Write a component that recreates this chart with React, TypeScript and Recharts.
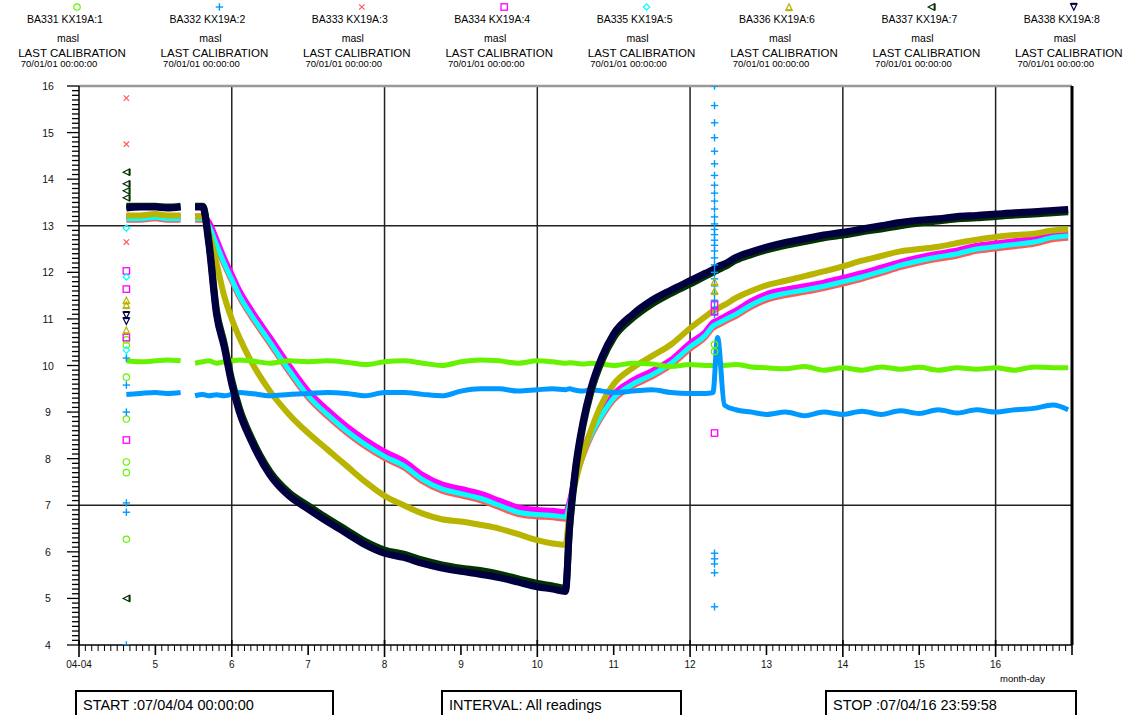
import { ComposedChart, Line, Scatter, XAxis, YAxis, ReferenceLine } from "recharts"

// time axis in days of April 2007
const days = [
    4.62, 4.8, 5.0, 5.15, 5.33, 5.42, 5.52, 5.62, 5.7, 5.8, 5.9, 6.0, 6.1, 6.25, 6.5, 6.75,
    7.0, 7.25, 7.5, 7.75, 8.0, 8.25, 8.5, 8.75, 9.0, 9.25, 9.5, 9.75, 10.0, 10.2, 10.37, 10.42,
    10.5, 10.6, 10.7, 10.85, 11.0, 11.25, 11.5, 11.75, 12.0, 12.2, 12.3, 12.36, 12.45, 12.6, 12.8,
    13.0, 13.25, 13.5, 13.75, 14.0, 14.25, 14.5, 14.75, 15.0, 15.25, 15.5, 15.75, 16.0, 16.25,
    16.5, 16.75, 16.95,
]

const ba331 = [
    10.1, 10.08, 10.1, 10.12, 10.1, null, 10.05, 10.08, 10.1, 10.05, 10.08, 10.1, 10.12, 10.1, 10.05, 10.1,
    10.08, 10.1, 10.07, 10.02, 10.08, 10.1, 10.05, 10.0, 10.08, 10.12, 10.1, 10.05, 10.1, 10.08, 10.05, 10.06,
    10.05, 10.03, 10.05, 10.03, 10.0, 10.05, 10.03, 9.98, 10.02, 10.0, 10.0, 10.05, 10.0, 10.02, 9.97,
    9.95, 9.93, 9.98, 9.9, 9.95, 9.9, 9.97, 9.92, 9.96, 9.9, 9.95, 9.92, 9.95, 9.9,
    9.97, 9.95, 9.95,
]
const ba332 = [
    9.38, 9.4, 9.42, 9.4, 9.42, null, 9.35, 9.38, 9.35, 9.37, 9.35, 9.38, 9.42, 9.4, 9.35, 9.38,
    9.4, 9.42, 9.4, 9.35, 9.42, 9.42, 9.38, 9.35, 9.45, 9.5, 9.5, 9.45, 9.48, 9.5, 9.48, 9.5,
    9.47, 9.45, 9.48, 9.45, 9.42, 9.45, 9.48, 9.42, 9.4, 9.4, 9.42, 10.6, 9.15, 9.05, 9.0,
    8.95, 9.0, 8.92, 9.0, 8.95, 9.02, 8.95, 9.03, 8.97, 9.05, 8.98, 9.05, 9.0, 9.05,
    9.08, 9.15, 9.05,
]
const ba333 = [
    13.12, 13.12, 13.15, 13.12, 13.12, null, 13.12, 13.12, 12.95, 12.55, 12.15, 11.8, 11.45, 11.05, 10.45, 9.85,
    9.3, 8.9, 8.55, 8.25, 8.0, 7.8, 7.5, 7.3, 7.2, 7.1, 6.95, 6.8, 6.75, 6.73, 6.7, 6.95,
    7.55, 8.05, 8.45, 8.9, 9.25, 9.55, 9.75, 10.0, 10.35, 10.6, 10.8, 10.85, 10.93, 11.05, 11.25,
    11.4, 11.5, 11.57, 11.65, 11.75, 11.85, 11.97, 12.1, 12.2, 12.28, 12.35, 12.45, 12.5, 12.55,
    12.6, 12.7, 12.73,
]
const ba334 = [
    13.2, 13.2, 13.22, 13.2, 13.2, null, 13.2, 13.2, 13.08, 12.7, 12.3, 11.95, 11.6, 11.2, 10.6, 10.0,
    9.45, 9.05, 8.7, 8.4, 8.15, 7.95, 7.65, 7.45, 7.35, 7.25, 7.1, 6.95, 6.9, 6.88, 6.85, 7.05,
    7.65, 8.15, 8.58, 9.02, 9.38, 9.68, 9.88, 10.12, 10.48, 10.72, 10.92, 10.97, 11.05, 11.18, 11.38,
    11.53, 11.63, 11.7, 11.78, 11.88, 11.98, 12.1, 12.22, 12.32, 12.4, 12.47, 12.57, 12.62, 12.67,
    12.72, 12.82, 12.85,
]
const ba335 = [
    13.15, 13.15, 13.18, 13.15, 13.15, null, 13.15, 13.15, 13.0, 12.6, 12.2, 11.85, 11.5, 11.1, 10.5, 9.9,
    9.35, 8.95, 8.6, 8.3, 8.05, 7.85, 7.55, 7.35, 7.25, 7.15, 7.0, 6.85, 6.8, 6.78, 6.75, 7.0,
    7.6, 8.1, 8.5, 8.95, 9.3, 9.6, 9.8, 10.05, 10.4, 10.65, 10.85, 10.9, 10.98, 11.1, 11.3,
    11.45, 11.55, 11.62, 11.7, 11.8, 11.9, 12.02, 12.15, 12.25, 12.33, 12.4, 12.5, 12.55, 12.6,
    12.65, 12.75, 12.78,
]
const ba336 = [
    13.22, 13.22, 13.25, 13.22, 13.22, null, 13.2, 13.2, 12.85, 12.2, 11.5, 11.0, 10.6, 10.1, 9.45, 8.95,
    8.55, 8.2, 7.85, 7.5, 7.2, 7.0, 6.82, 6.7, 6.65, 6.58, 6.5, 6.38, 6.25, 6.18, 6.15, 6.8,
    7.5, 8.1, 8.6, 9.2, 9.6, 9.95, 10.2, 10.45, 10.8, 11.05, 11.17, 11.22, 11.3, 11.45, 11.6,
    11.72, 11.82, 11.92, 12.02, 12.13, 12.25, 12.35, 12.45, 12.5, 12.55, 12.63, 12.7, 12.76, 12.8,
    12.83, 12.9, 12.92,
]
const ba337 = [
    13.42, 13.42, 13.42, 13.4, 13.42, null, 13.42, 13.42, 12.68, 11.18, 10.48, 9.68, 9.08, 8.47, 7.72, 7.27,
    6.99, 6.72, 6.47, 6.22, 6.04, 5.95, 5.82, 5.72, 5.65, 5.6, 5.52, 5.42, 5.32, 5.27, 5.22, 6.45,
    7.72, 8.72, 9.42, 10.12, 10.6, 11.02, 11.32, 11.55, 11.75, 11.92, 12.0, 12.05, 12.12, 12.26, 12.38,
    12.48, 12.58, 12.66, 12.74, 12.8, 12.87, 12.93, 13.0, 13.06, 13.1, 13.15, 13.17, 13.2, 13.23,
    13.25, 13.28, 13.3,
]
const ba338 = [
    13.38, 13.4, 13.4, 13.38, 13.4, null, 13.4, 13.4, 12.6, 11.1, 10.4, 9.6, 9.0, 8.4, 7.65, 7.2,
    6.92, 6.65, 6.4, 6.15, 5.97, 5.88, 5.75, 5.65, 5.58, 5.52, 5.45, 5.35, 5.25, 5.2, 5.15, 6.5,
    7.8, 8.8, 9.5, 10.2, 10.68, 11.1, 11.4, 11.62, 11.82, 11.98, 12.06, 12.12, 12.18, 12.32, 12.44,
    12.54, 12.64, 12.72, 12.8, 12.86, 12.93, 13.0, 13.07, 13.12, 13.15, 13.2, 13.22, 13.25, 13.28,
    13.3, 13.33, 13.35,
]

// stray readings, [day, value]
const ba331Marks = [[4.62, 10.55], [4.62, 10.44], [4.62, 9.75], [4.62, 8.85], [4.62, 7.93], [4.62, 7.7], [4.62, 6.27], [12.32, 10.45], [12.32, 10.3]]
const ba332Marks = [
    [4.62, 10.16], [4.62, 9.58], [4.62, 9.0], [4.62, 7.05], [4.62, 6.85], [4.62, 4.0],
    [12.32, 16.0], [12.32, 15.58], [12.32, 15.21], [12.32, 14.89], [12.32, 14.6], [12.32, 14.33],
    [12.32, 14.08], [12.32, 13.87], [12.32, 13.7], [12.32, 13.53], [12.32, 13.36], [12.32, 13.19],
    [12.32, 13.04], [12.32, 12.92], [12.32, 12.81], [12.32, 12.69], [12.32, 12.58], [12.32, 12.46],
    [12.32, 12.31], [12.32, 12.16], [12.32, 12.0], [12.32, 11.86], [12.32, 11.71], [12.32, 11.55],
    [12.32, 11.4], [12.32, 11.25], [12.32, 11.1], [12.32, 5.97], [12.32, 5.85], [12.32, 5.74],
    [12.32, 5.55], [12.32, 4.82],
]
const ba333Marks = [[4.62, 15.74], [4.62, 14.75], [4.62, 12.65]]
const ba334Marks = [[4.62, 12.03], [4.62, 11.64], [4.62, 10.6], [4.62, 8.4], [12.32, 11.3], [12.32, 11.15], [12.32, 8.55]]
const ba335Marks = [[4.62, 12.95], [4.62, 11.9], [4.62, 10.33]]
const ba336Marks = [[4.62, 11.4], [4.62, 11.3], [4.62, 10.76], [12.32, 11.8], [12.32, 11.6]]
const ba337Marks = [[4.62, 14.15], [4.62, 13.9], [4.62, 13.75], [4.62, 13.6], [4.62, 5.0]]
const ba338Marks = [[4.62, 11.08], [4.62, 10.95]]

const seriesNames = [
    "BA331 KX19A:1", "BA332 KX19A:2", "BA333 KX19A:3", "BA334 KX19A:4",
    "BA335 KX19A:5", "BA336 KX19A:6", "BA337 KX19A:7", "BA338 KX19A:8",
]
const seriesColors = ["#66f200", "#0099ff", "#ff5a5a", "#ff00ff", "#00ffff", "#b8b400", "#003300", "#000040"]
const markerKinds = ["circle", "plus", "cross", "square", "diamond", "triangle", "left", "down"]

const xTickLabels = ["04-04", "5", "6", "7", "8", "9", "10", "11", "12", "13", "14", "15", "16"]
const yTickLabels = ["4", "5", "6", "7", "8", "9", "10", "11", "12", "13", "14", "15", "16"]
const gridDays = [6, 8, 10, 12, 14, 16]
const gridLevels = [7, 13]

const FONT = "'Liberation Sans', Arial, Helvetica, sans-serif"

const seriesValues = [ba331, ba332, ba333, ba334, ba335, ba336, ba337, ba338]
const seriesMarks = [ba331Marks, ba332Marks, ba333Marks, ba334Marks, ba335Marks, ba336Marks, ba337Marks, ba338Marks]
const lineWidths = [5, 5, 5, 6, 5, 6, 7, 7]
const drawOrder = [2, 3, 4, 5, 0, 1, 6, 7]

const xTicks = Array.from({ length: 13 * 12 + 1 }, (_, i) => 4 + i / 12)
const yTicks = Array.from({ length: 121 }, (_, i) => 4 + i / 10)

function Marker({ kind, cx, cy, color }: { kind: string; cx: number; cy: number; color: string }) {
    const s = 3.2
    switch (kind) {
        case "circle":
            return <circle cx={cx} cy={cy} r={s} fill="none" stroke={color} strokeWidth={1.2} />
        case "plus":
            return (
                <g stroke={color} strokeWidth={1.4}>
                    <line x1={cx - s - 0.5} x2={cx + s + 0.5} y1={cy} y2={cy} />
                    <line x1={cx} x2={cx} y1={cy - s - 0.5} y2={cy + s + 0.5} />
                </g>
            )
        case "cross":
            return (
                <g stroke={color} strokeWidth={1.2}>
                    <line x1={cx - s + 0.5} x2={cx + s - 0.5} y1={cy - s + 0.5} y2={cy + s - 0.5} />
                    <line x1={cx - s + 0.5} x2={cx + s - 0.5} y1={cy + s - 0.5} y2={cy - s + 0.5} />
                </g>
            )
        case "square":
            return <rect x={cx - s} y={cy - s} width={2 * s} height={2 * s} fill="none" stroke={color} strokeWidth={1.3} />
        case "diamond":
            return <polygon points={`${cx},${cy - s} ${cx + s},${cy} ${cx},${cy + s} ${cx - s},${cy}`} fill="none" stroke={color} strokeWidth={1.2} />
        case "triangle":
            return (
                <g stroke={color} strokeWidth={1.2} fill="none">
                    <polygon points={`${cx},${cy - s} ${cx + s},${cy + s} ${cx - s},${cy + s}`} />
                    <line x1={cx - s} x2={cx + s} y1={cy + s} y2={cy + s} strokeWidth={2} />
                </g>
            )
        case "left":
            return (
                <g stroke={color} strokeWidth={1.2} fill="none">
                    <polygon points={`${cx - s},${cy} ${cx + s},${cy - s} ${cx + s},${cy + s}`} />
                    <line x1={cx + s} x2={cx + s} y1={cy - s} y2={cy + s} strokeWidth={2} />
                </g>
            )
        default:
            return (
                <g stroke={color} strokeWidth={1.2} fill="none">
                    <polygon points={`${cx - s},${cy - s} ${cx + s},${cy - s} ${cx},${cy + s}`} />
                    <line x1={cx - s} x2={cx + s} y1={cy - s} y2={cy - s} strokeWidth={2} />
                </g>
            )
    }
}

function XTick(props: any) {
    const { x, y, payload } = props
    const step = Math.round(payload.value * 12)
    const isDay = step % 12 === 0
    const day = step / 12
    const major = isDay && day % 2 === 0
    const len = major ? 12 : isDay ? 10 : 6
    const label = isDay ? xTickLabels[day - 4] : undefined
    return (
        <g>
            <line x1={x} x2={x} y1={major ? y - 5 : y} y2={y + len} stroke="#000" strokeWidth={isDay ? 1.6 : 1} />
            {label ? (
                <text x={x} y={y + 23} textAnchor="middle" fontSize={10} fontFamily={FONT} fill="#111">
                    {label}
                </text>
            ) : null}
        </g>
    )
}

function YTick(props: any) {
    const { x, y, payload } = props
    const tenth = Math.round(payload.value * 10)
    const whole = tenth % 10 === 0
    const len = whole ? 12 : 7
    return (
        <g>
            <line x1={x - len} x2={x} y1={y} y2={y} stroke="#000" strokeWidth={1.3} />
            {whole ? (
                <text x={x - 31} y={y + 4} textAnchor="middle" fontSize={10.5} fontFamily={FONT} fill="#111">
                    {yTickLabels[tenth / 10 - 4]}
                </text>
            ) : null}
        </g>
    )
}

function Header() {
    return (
        <svg width={1126} height={80} style={{ position: "absolute", left: 0, top: 0 }}>
            {seriesNames.map((name, i) => {
                const cx = 65 + i * 142.4
                return (
                    <g key={name} fontFamily={FONT} fill="#000">
                        <Marker kind={markerKinds[i]} cx={cx + 12} cy={7} color={seriesColors[i]} />
                        <text x={cx} y={23} textAnchor="middle" fontSize={10.5}>{name}</text>
                        <text x={cx + 3} y={42} textAnchor="middle" fontSize={10.5}>masl</text>
                        <text x={cx + 7} y={57} textAnchor="middle" fontSize={11.5}>LAST CALIBRATION</text>
                        <text x={cx - 6} y={67} textAnchor="middle" fontSize={9.5}>70/01/01 00:00:00</text>
                    </g>
                )
            })}
        </svg>
    )
}

const boxStyle = (left: number, width: number): React.CSSProperties => ({
    position: "absolute",
    left,
    top: 690,
    width,
    height: 40,
    border: "2px solid #000",
    boxSizing: "border-box",
    fontFamily: FONT,
    fontSize: 14.5,
    padding: "5px 0 0 6px",
    color: "#000",
})

export default function App() {
    return (
        <div style={{ position: "absolute", left: 0, top: 0, width: 1126, height: 715, overflow: "hidden", background: "#fff" }}>
            <Header />
            <div style={{ position: "absolute", left: 0, top: 0 }}>
                <ComposedChart width={1126} height={715} margin={{ top: 86, right: 54, bottom: 40, left: 39 }}>
                    <XAxis
                        dataKey="t"
                        type="number"
                        domain={[4, 17]}
                        ticks={xTicks}
                        interval={0}
                        tick={<XTick />}
                        tickLine={false}
                        tickSize={0}
                        tickMargin={0}
                        height={30}
                        allowDataOverflow
                        axisLine={{ stroke: "#000", strokeWidth: 1.5 }}
                    />
                    <YAxis
                        type="number"
                        domain={[4, 16]}
                        ticks={yTicks}
                        interval={0}
                        tick={<YTick />}
                        tickLine={false}
                        tickSize={0}
                        tickMargin={0}
                        width={40}
                        allowDataOverflow
                        axisLine={{ stroke: "#000", strokeWidth: 1.5 }}
                    />
                    {gridDays.map((d) => (
                        <ReferenceLine key={"gx" + d} x={d} stroke="#222" strokeWidth={1.5} />
                    ))}
                    {gridLevels.map((v) => (
                        <ReferenceLine key={"gy" + v} y={v} stroke="#222" strokeWidth={1.5} />
                    ))}
                    <ReferenceLine y={16} stroke="#999" strokeWidth={2.5} />
                    <ReferenceLine x={17} stroke="#000" strokeWidth={3} />
                    {drawOrder.map((i) => (
                        <Line
                            key={seriesNames[i]}
                            data={days.map((t, k) => ({ t, v: seriesValues[i][k] }))}
                            dataKey="v"
                            type="monotoneX"
                            stroke={seriesColors[i]}
                            strokeWidth={lineWidths[i]}
                            dot={false}
                            activeDot={false}
                            isAnimationActive={false}
                        />
                    ))}
                    {seriesMarks.map((marks, i) => (
                        <Scatter
                            key={"m" + i}
                            data={marks.map(([t, v]) => ({ t, v }))}
                            dataKey="v"
                            isAnimationActive={false}
                            shape={(p: any) => <Marker kind={markerKinds[i]} cx={p.cx} cy={p.cy} color={seriesColors[i]} />}
                        />
                    ))}
                </ComposedChart>
            </div>
            <div style={{ position: "absolute", left: 1000, top: 673, fontFamily: FONT, fontSize: 9.5 }}>month-day</div>
            <div style={boxStyle(75, 259)}>START :07/04/04 00:00:00</div>
            <div style={boxStyle(441, 241)}>INTERVAL: All readings</div>
            <div style={boxStyle(825, 252)}>STOP :07/04/16 23:59:58</div>
        </div>
    )
}
